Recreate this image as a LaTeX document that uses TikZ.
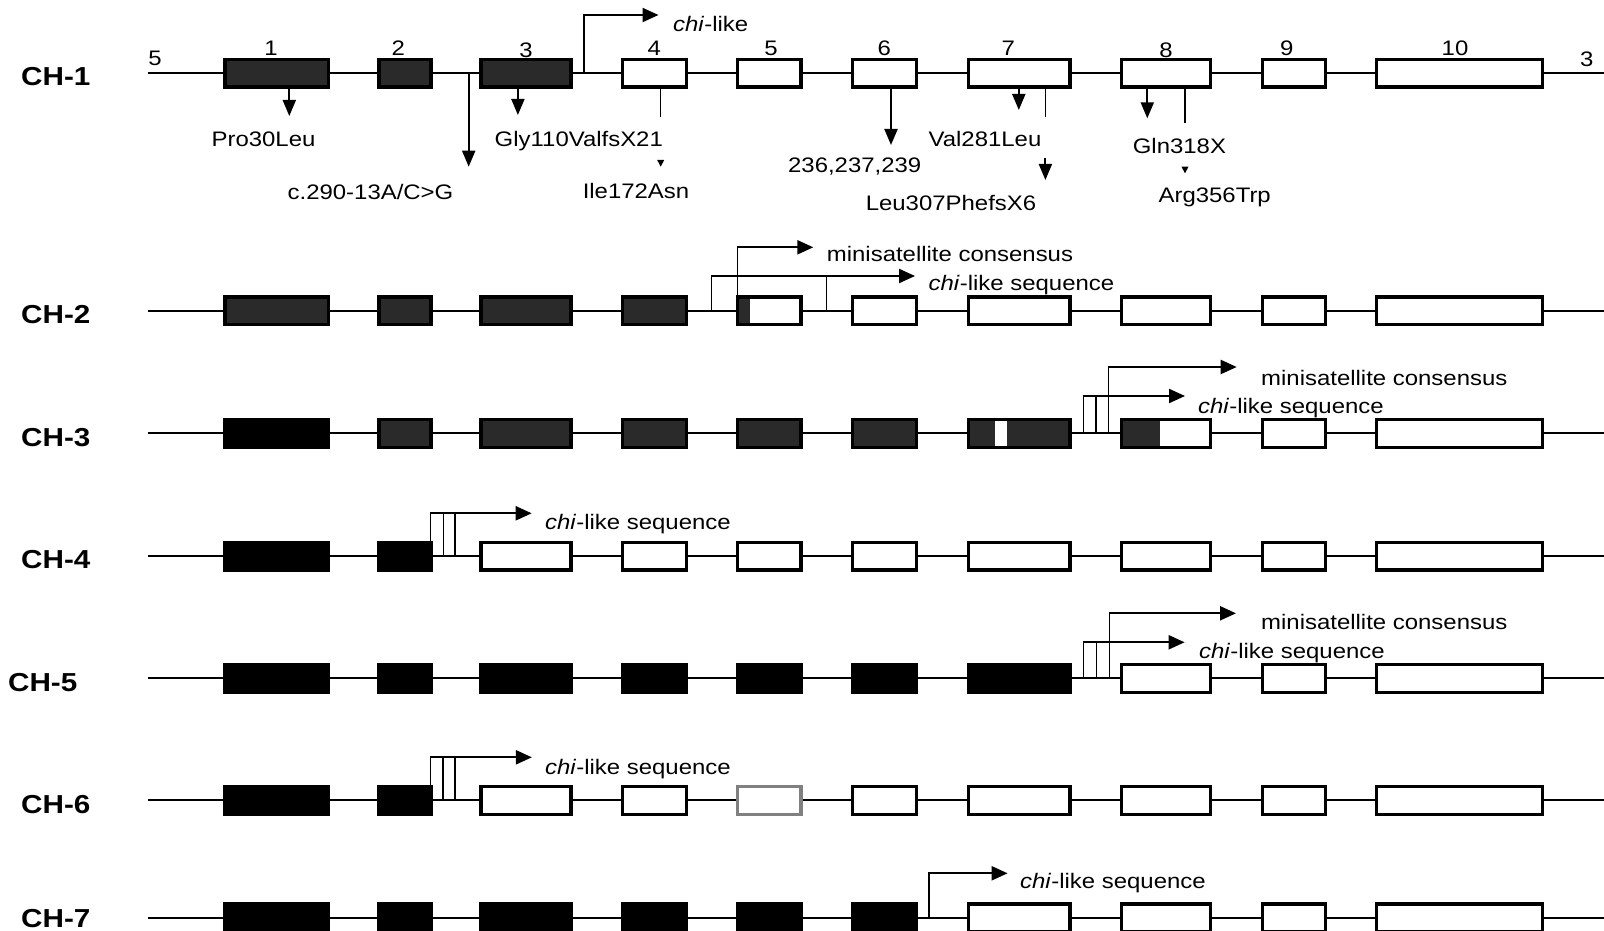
\documentclass[tikz,border=0pt]{standalone}
\usepackage{fontspec}
\setmainfont{Liberation Sans}[FakeStretch=1.14]
\usetikzlibrary{arrows.meta}
\definecolor{exdark}{HTML}{2A2A2A}
\definecolor{exgray}{HTML}{808080}

\newcommand\generow[3]{% yc, number of black exons, number of black+dark exons
  \draw[backbone] (148.3,#1) -- (1604,#1);
  \foreach \xa/\xb [count=\i] in {223.3/330,377.3/432.7,479.3/572.7,620.7/688.3,735.7/802.7,850.7/918.3,966.7/1071.7,1120/1212.3,1260.7/1327.3,1375/1544.3}{
    \ifnum\i>#3 \def\fc{white}\else\ifnum\i>#2 \def\fc{exdark}\else\def\fc{black}\fi\fi
    \filldraw[exon,fill=\fc] (\xa+1.65,#1-13.85) rectangle (\xb-1.65,#1+13.85);
  }}

\begin{document}
\begin{tikzpicture}[x=1pt,y=-1pt,
  backbone/.style={line width=1.7pt},
  exon/.style={line width=3.3pt, draw=black},
  vline/.style={line width=1.4pt},
  harrow/.style={line width=2.2pt, -{Triangle[length=16pt,width=14pt]}},
  mutarrow/.style={line width=2pt, -{Triangle[length=16pt,width=13pt]}},
  ann/.style={inner sep=0pt, anchor=base, font=\fontsize{21}{25}\selectfont},
  num/.style={inner sep=0pt, anchor=base, font=\fontsize{21}{25}\selectfont},
  seqtxt/.style={inner sep=0pt, anchor=base west, font=\fontsize{21}{25}\selectfont},
  lab/.style={inner sep=0pt, anchor=base west, font=\fontsize{26}{30}\selectfont\bfseries},
]
\useasboundingbox (0,0) rectangle (1604,931);

% ---------------- rows ----------------
\generow{73.3}{0}{3}
\generow{310.7}{0}{4}
\generow{433.3}{1}{7}
\generow{556}{2}{2}
\generow{678.3}{7}{7}
\generow{800.3}{2}{2}
\generow{917.7}{6}{6}

% partial fills
\fill[exdark] (739,298.5) rectangle (750,322.9);          % CH-2 exon 5
\fill[white] (995.3,421) rectangle (1007,445.6);          % CH-3 exon 7 strip
\fill[exdark] (1123.3,421) rectangle (1160,445.6);        % CH-3 exon 8
\filldraw[exon,draw=exgray,fill=white] (737.35,786.45) rectangle (801.05,814.15); % CH-6 exon 5

% ---------------- row labels ----------------
\node[lab] (l1) at (21,86) {CH-1};
\node[lab] (l2) at (21,323.5) {CH-2};
\node[lab] (l3) at (21,446) {CH-3};
\node[lab] (l4) at (21,568.5) {CH-4};
\node[lab] (l5) at (8,691) {CH-5};
\node[lab] (l6) at (21,813) {CH-6};
\node[lab] (l7) at (21,927.5) {CH-7};

% ---------------- exon numbers ----------------
\foreach \x/\t/\b in {271/1/56,398.3/2/56,526/3/58,654.3/4/56,771/5/56,884.3/6/56,1008.3/7/56,1166/8/58,1286.7/9/56,1455/10/56}
  \node[num] (n\t) at (\x,\b) {\t};
\node[num] (e5) at (155,66) {5};
\node[num] (e3) at (1586.7,66.5) {3};

% ---------------- CH-1 mutations ----------------
\draw[mutarrow] (289.3,88.3) -- (289.3,116);
\draw[mutarrow] (468.7,73.3) -- (468.7,166.7);
\draw[mutarrow] (517.9,88.3) -- (517.9,115);
\draw[vline] (660.7,88.3) -- (660.7,116.7);
\fill (657.2,160) -- (664.2,160) -- (660.7,166.7) -- cycle;
\draw[mutarrow] (891,88.3) -- (891,145);
\draw[mutarrow] (1018.8,88.3) -- (1018.8,110);
\draw[vline] (1045.4,88.3) -- (1045.4,116.7);
\draw[mutarrow] (1045.4,158) -- (1045.4,180);
\draw[mutarrow] (1147.3,88.3) -- (1147.3,118.3);
\draw[vline] (1185,88.3) -- (1185,123.3);
\fill (1181.5,166.7) -- (1188.5,166.7) -- (1185,173.3) -- cycle;

\node[ann] (m1) at (263.5,146.5) {Pro30Leu};
\node[ann] (m2) at (370.5,199) {c.290-13A/C>G};
\node[ann] (m3) at (578.8,146.5) {Gly110ValfsX21};
\node[ann] (m4) at (636,198.3) {Ile172Asn};
\node[ann] (m5) at (854.7,172.5) {236,237,239};
\node[ann] (m6) at (985,146.5) {Val281Leu};
\node[ann] (m7) at (951,210.5) {Leu307PhefsX6};
\node[ann] (m8) at (1179.4,153.3) {Gln318X};
\node[ann] (m9) at (1214.7,202.5) {Arg356Trp};

% ---------------- CH-1 chi ----------------
\draw[vline] (584,73.3) -- (584,15);
\draw[harrow] (583.3,15) -- (658.5,15);
\node[seqtxt] (c1) at (673,31.5) {\textit{chi}-like};

% ---------------- CH-2 ----------------
\draw[vline] (711.7,310.7) -- (711.7,276);
\draw[vline] (826.7,310.7) -- (826.7,276);
\draw[harrow] (711,276) -- (915,276);
\draw[vline] (737.3,295) -- (737.3,247.3);
\draw[harrow] (736.6,247.3) -- (813.3,247.3);
\node[seqtxt] (s2) at (826.7,261.5) {minisatellite consensus};
\node[seqtxt] (c2) at (928.5,290) {\textit{chi}-like sequence};

% ---------------- CH-3 ----------------
\foreach \x in {1083.3,1096}
  \draw[vline] (\x,433.3) -- (\x,396);
\draw[vline] (1108.3,433.3) -- (1108.3,367);
\draw[harrow] (1082.6,396) -- (1185,396);
\draw[harrow] (1107.6,367) -- (1236.7,367);
\node[seqtxt] (s3) at (1261,385) {minisatellite consensus};
\node[seqtxt] (c3) at (1198,413.3) {\textit{chi}-like sequence};

% ---------------- CH-4 ----------------
\foreach \x in {430.7,443.3,455}
  \draw[vline] (\x,556) -- (\x,513.3);
\draw[harrow] (430,513.3) -- (531.7,513.3);
\node[seqtxt] (c4) at (545,529) {\textit{chi}-like sequence};

% ---------------- CH-5 ----------------
\foreach \x in {1083.6,1096.4}
  \draw[vline] (\x,678.3) -- (\x,642.3);
\draw[vline] (1109.2,678.3) -- (1109.2,613.3);
\draw[harrow] (1082.9,642.3) -- (1184.6,642.3);
\draw[harrow] (1108.5,613.3) -- (1236,613.3);
\node[seqtxt] (s5) at (1261,629) {minisatellite consensus};
\node[seqtxt] (c5) at (1199,658) {\textit{chi}-like sequence};

% ---------------- CH-6 ----------------
\foreach \x in {430.7,443,455}
  \draw[vline] (\x,800.3) -- (\x,757.3);
\draw[harrow] (430,757.3) -- (531.9,757.3);
\node[seqtxt] (c6) at (545,774) {\textit{chi}-like sequence};

% ---------------- CH-7 ----------------
\draw[vline] (929,917.7) -- (929,873.3);
\draw[harrow] (928.3,873.3) -- (1007.6,873.3);
\node[seqtxt] (c7) at (1020,888) {\textit{chi}-like sequence};
\end{tikzpicture}
\end{document}
